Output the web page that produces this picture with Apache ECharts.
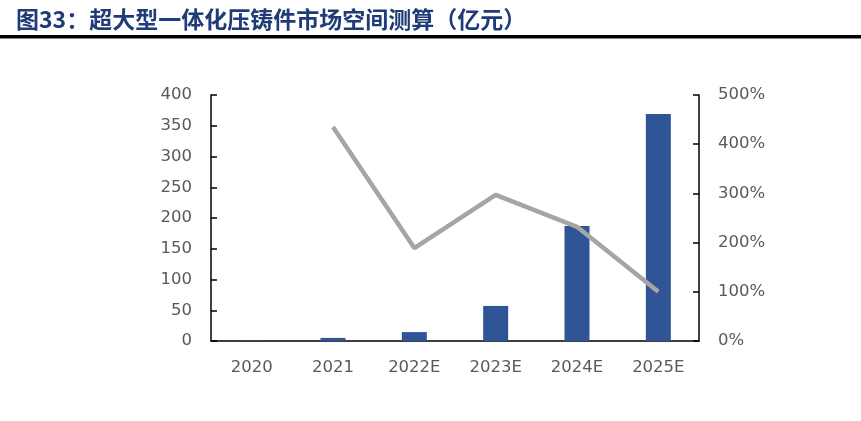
<!DOCTYPE html>
<html><head><meta charset="utf-8">
<script src="https://cdn.jsdelivr.net/npm/echarts@6/dist/echarts.min.js"></script>
<style>html,body{margin:0;padding:0;background:#fff}#c{width:861px;height:421px}</style>
</head><body><div id="c"></div>
<script>
const titleText = '图33：超大型一体化压铸件市场空间测算（亿元）';
const categories = ['2020', '2021', '2022E', '2023E', '2024E', '2025E'];
const marketSize = [0.4, 5, 14.5, 57, 187, 369];
const growthRate = [null, 435, 189, 297, 232, 100];
const leftTicks = [0, 400, 50];
const rightTicks = [0, 500, 100];

const chart = echarts.init(document.getElementById('c'), null, {renderer: 'canvas'});
const labelStyle = {color: '#595959', fontSize: 16.5, fontFamily: 'DejaVu Sans, sans-serif'};
chart.setOption({
  animation: false,
  title: {
    text: titleText, left: 11, top: 3,
    textStyle: {color: '#1F3B78', fontSize: 23, fontWeight: 'bold', fontFamily: 'Noto Sans CJK SC'}
  },
  graphic: [{type: 'rect', shape: {x: 0, y: 35, width: 861, height: 3.5}, style: {fill: '#000'}}],
  grid: {left: 211, right: 162, top: 95, bottom: 80},
  xAxis: {
    type: 'category', data: categories,
    axisLine: {lineStyle: {color: '#000', width: 1.5}},
    axisTick: {inside: true, length: 6, lineStyle: {color: '#000', width: 1.5}},
    axisLabel: Object.assign({margin: 18}, labelStyle)
  },
  yAxis: [{
    type: 'value', min: leftTicks[0], max: leftTicks[1], interval: leftTicks[2],
    axisLine: {show: true, lineStyle: {color: '#000', width: 1.5}},
    axisTick: {show: true, inside: true, length: 6, lineStyle: {color: '#000', width: 1.5}},
    splitLine: {show: false},
    axisLabel: Object.assign({margin: 19}, labelStyle)
  }, {
    type: 'value', min: rightTicks[0], max: rightTicks[1], interval: rightTicks[2],
    axisLine: {show: true, lineStyle: {color: '#000', width: 1.5}},
    axisTick: {show: true, inside: true, length: 6, lineStyle: {color: '#000', width: 1.5}},
    splitLine: {show: false},
    axisLabel: Object.assign({margin: 19, formatter: '{value}%'}, labelStyle)
  }],
  series: [{
    type: 'bar', data: marketSize, yAxisIndex: 0, barWidth: 25,
    itemStyle: {color: '#2F5597'}
  }, {
    type: 'line', data: growthRate, yAxisIndex: 1, symbol: 'none',
    lineStyle: {color: '#A5A5A5', width: 4.5}, connectNulls: false
  }]
});
</script></body></html>
